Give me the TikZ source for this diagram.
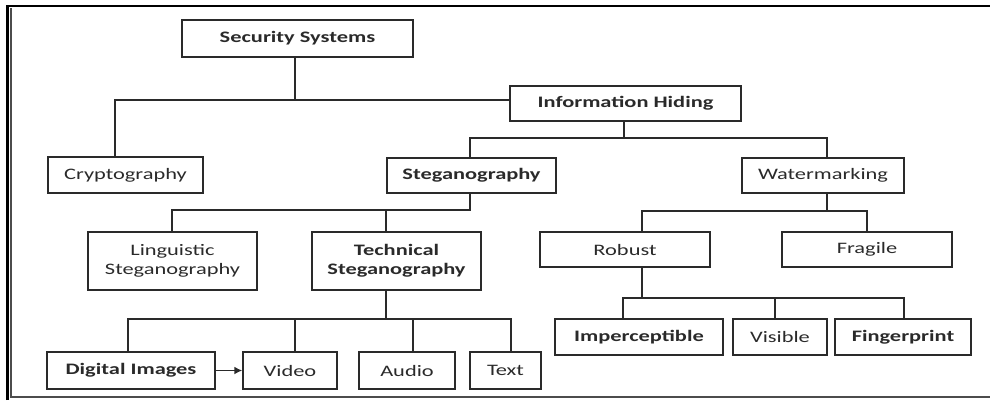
\documentclass[tikz,border=0pt]{standalone}
\usepackage{fontspec}
\setmainfont{Carlito}[FakeStretch=1.4]
\usetikzlibrary{arrows.meta,calc}
\definecolor{ink}{HTML}{2A2A2A}
\begin{document}
\begin{tikzpicture}[x=1pt,y=-1pt,
  box/.style={draw=ink,line width=1.5pt,inner sep=0pt,align=center,text=ink,
    font=\fontsize{16}{19}\selectfont},
  bbox/.style={box,font=\fontsize{16}{19}\selectfont\bfseries},
  conn/.style={draw=ink,line width=1.5pt}]
\useasboundingbox (0,0) rectangle (990,400);
% frame
\draw[line width=2.2pt,black] (7.5,400) -- (7.5,6) -- (990,6);
\draw[line width=1.6pt,gray!60!black] (11,8) -- (11,397) -- (990,397);
% nodes
\node[bbox,minimum width=231pt,minimum height=37pt] (ss) at (297.5,38.5) {Security Systems};
\node[bbox,minimum width=231pt,minimum height=35pt] (ih) at (625.5,103.5) {Information Hiding};
\node[box,minimum width=155pt,minimum height=36pt] (crypto) at (125.5,175) {Cryptography};
\node[bbox,minimum width=169pt,minimum height=35pt] (steg) at (471.5,175.5) {Steganography};
\node[box,minimum width=162pt,minimum height=35pt] (wm) at (823,175.5) {Watermarking};
\node[box,minimum width=169pt,minimum height=58pt] (ling) at (172.5,261) {Linguistic\\Steganography};
\node[bbox,minimum width=169pt,minimum height=58pt] (tech) at (396.5,261) {Technical\\Steganography};
\node[box,minimum width=170pt,minimum height=35pt] (robust) at (625,249.5) {Robust};
\node[box,minimum width=170pt,minimum height=35pt] (fragile) at (867,249.5) {Fragile};
\node[bbox,minimum width=168pt,minimum height=37pt] (di) at (131,370.5) {Digital Images};
\node[box,minimum width=94pt,minimum height=37pt] (video) at (290,370.5) {Video};
\node[box,minimum width=96pt,minimum height=37pt] (audio) at (407,370.5) {Audio};
\node[box,minimum width=71pt,minimum height=37pt] (text) at (505.5,370.5) {Text};
\node[bbox,minimum width=168pt,minimum height=36pt] (imp) at (639,337) {Imperceptible};
\node[box,minimum width=94pt,minimum height=36pt] (vis) at (780,337) {Visible};
\node[bbox,minimum width=136pt,minimum height=36pt] (fing) at (903,337) {Fingerprint};
% junctions
\coordinate (a1) at (295,100); \coordinate (a2) at (115,100);
\coordinate (b1) at (624,138); \coordinate (b2) at (470,138); \coordinate (b3) at (827,138);
\coordinate (c1) at (470,210); \coordinate (c2) at (172,210); \coordinate (c3) at (386,210);
\coordinate (d1) at (386,319); \coordinate (d2) at (128,319); \coordinate (d3) at (295,319);
\coordinate (d4) at (413,319); \coordinate (d5) at (511,319);
\coordinate (e1) at (827,211); \coordinate (e2) at (642,211); \coordinate (e3) at (867,211);
\coordinate (f1) at (642,298); \coordinate (f2) at (623,298); \coordinate (f3) at (775,298);
\coordinate (f4) at (904,298);
% connectors
\draw[conn] (ss.south -| a1) -- (a1);
\draw[conn] (crypto.north -| a2) -- (a2) -- (ih.west |- a1);
\draw[conn] (ih.south -| b1) -- (b1);
\draw[conn] (steg.north -| b2) -- (b2) -- (b3) -- (wm.north -| b3);
\draw[conn] (steg.south -| c1) -- (c1) -- (c2) -- (ling.north -| c2);
\draw[conn] (c3) -- (tech.north -| c3);
\draw[conn] (tech.south -| d1) -- (d1);
\draw[conn] (di.north -| d2) -- (d2) -- (d5) -- (text.north -| d5);
\draw[conn] (d3) -- (video.north -| d3);
\draw[conn] (d4) -- (audio.north -| d4);
\draw[conn,-{Latex[length=8pt,width=8pt]}] (di.east) -- (video.west);
\draw[conn] (wm.south -| e1) -- (e1);
\draw[conn] (robust.north -| e2) -- (e2) -- (e3) -- (fragile.north -| e3);
\draw[conn] (robust.south -| f1) -- (f1);
\draw[conn] (imp.north -| f2) -- (f2) -- (f4) -- (fing.north -| f4);
\draw[conn] (f3) -- (vis.north -| f3);
\end{tikzpicture}
\end{document}
